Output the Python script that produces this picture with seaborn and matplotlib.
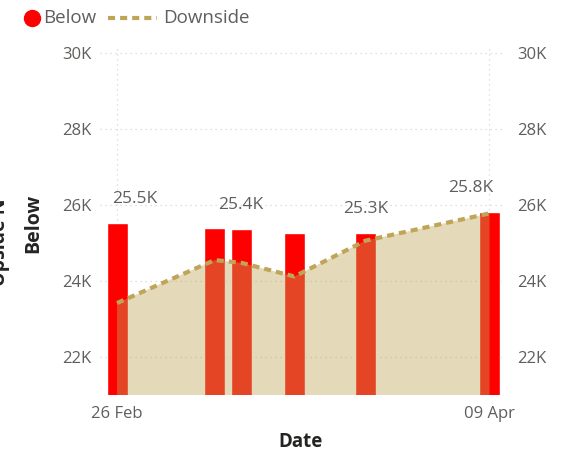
import matplotlib
matplotlib.use("Agg")
import matplotlib.pyplot as plt
import matplotlib.dates as mdates
from matplotlib.lines import Line2D
from matplotlib.ticker import FuncFormatter
import pandas as pd
import seaborn as sns

# values
dates = pd.to_datetime(["2023-02-26", "2023-03-09", "2023-03-12",
                        "2023-03-18", "2023-03-26", "2023-04-09"])
below = [25530, 25400, 25360, 25260, 25270, 25820]
downside = [23420, 24550, 24480, 24120, 25060, 25780]
labelled = [0, 2, 4, 5]           # bars that carry a data label
label_shift = [18, 0, 0, -19]     # px, Power BI nudges edge labels inwards
y_ticks = [22000, 24000, 26000, 28000, 30000]

df = pd.DataFrame({"Date": dates, "Below": below, "Downside": downside})

sns.set_theme(style="white")
plt.rcParams["font.family"] = ["Open Sans", "DejaVu Sans"]

GREY = "#605E5C"
DARK = "#252423"
GOLD = "#BFA558"
RED = "#FF0000"
DASH = (0, (1.7, 1.2))

fig = plt.figure(figsize=(5.64, 4.53), dpi=100)
ax = fig.add_axes([100 / 564, 1 - 395 / 453, 402 / 564, 349.6 / 453])

ax.bar(df["Date"], df["Below"], width=2.37, color=RED, zorder=2)
ax.fill_between(df["Date"], 0, df["Downside"], color=GOLD, alpha=0.42, lw=0, zorder=3)
sns.lineplot(data=df, x="Date", y="Downside", ax=ax, color=GOLD, lw=3,
             linestyle=DASH, zorder=4)

# data labels
for i, dx in zip(labelled, label_shift):
    ax.annotate(f"{below[i] / 1000:.1f}K", (df["Date"][i], below[i]),
                xytext=(dx, 24), textcoords="offset pixels",
                ha="center", va="center", fontsize=12.5, color=GREY, zorder=5)

ax.set_ylim(21000, 30200)
ax.set_xlim(dates[0] - pd.Timedelta(days=1.92), dates[0] + pd.Timedelta(days=43.41))
kfmt = FuncFormatter(lambda v, p: f"{v / 1000:.0f}K")
ax.set_yticks(y_ticks)
ax.yaxis.set_major_formatter(kfmt)
ax.set_xticks([dates[0], dates[-1]])
ax.xaxis.set_major_formatter(mdates.DateFormatter("%d %b"))
ax.tick_params(axis="y", length=0, pad=6, labelsize=12, labelcolor=GREY)
ax.tick_params(axis="x", length=0, pad=8, labelsize=12, labelcolor=GREY)
ax.grid(True, color="#D6D6D6", linestyle=(0, (1, 3)), lw=0.9)
ax.set_axisbelow(True)
for s in ax.spines.values():
    s.set_visible(False)

ax.set_xlabel("Date", fontsize=13.5, fontweight="bold", color=DARK)
ax.xaxis.set_label_coords(0.5, -0.105)
ax.set_ylabel("Below", fontsize=14, fontweight="bold", color=DARK)
ax.yaxis.set_label_coords(-0.142, 0.49)

ax2 = ax.twinx()
ax2.set_ylim(ax.get_ylim())
ax2.set_yticks(y_ticks)
ax2.yaxis.set_major_formatter(kfmt)
ax2.tick_params(axis="y", length=0, pad=11, labelsize=12, labelcolor=GREY)
for s in ax2.spines.values():
    s.set_visible(False)
ax2.grid(False)

# cut-off secondary axis title on the far left
fig.text(0.0, 1 - 242 / 453, "Upside N", rotation=90, ha="center", va="center",
         fontsize=14, fontweight="bold", color=DARK)

# legend, laid out like the Power BI header
ly = 1 - 18 / 453
fig.add_artist(Line2D([32 / 564], [ly], marker="o", color=RED, ls="", markersize=11.5))
fig.text(43 / 564, ly, "Below", fontsize=13.5, color=GREY, va="center")
fig.add_artist(Line2D([108 / 564, 157 / 564], [ly, ly], color=GOLD, lw=3, ls=DASH))
fig.text(163 / 564, ly, "Downside", fontsize=13.5, color=GREY, va="center")

fig.savefig("out.png", dpi=100)
